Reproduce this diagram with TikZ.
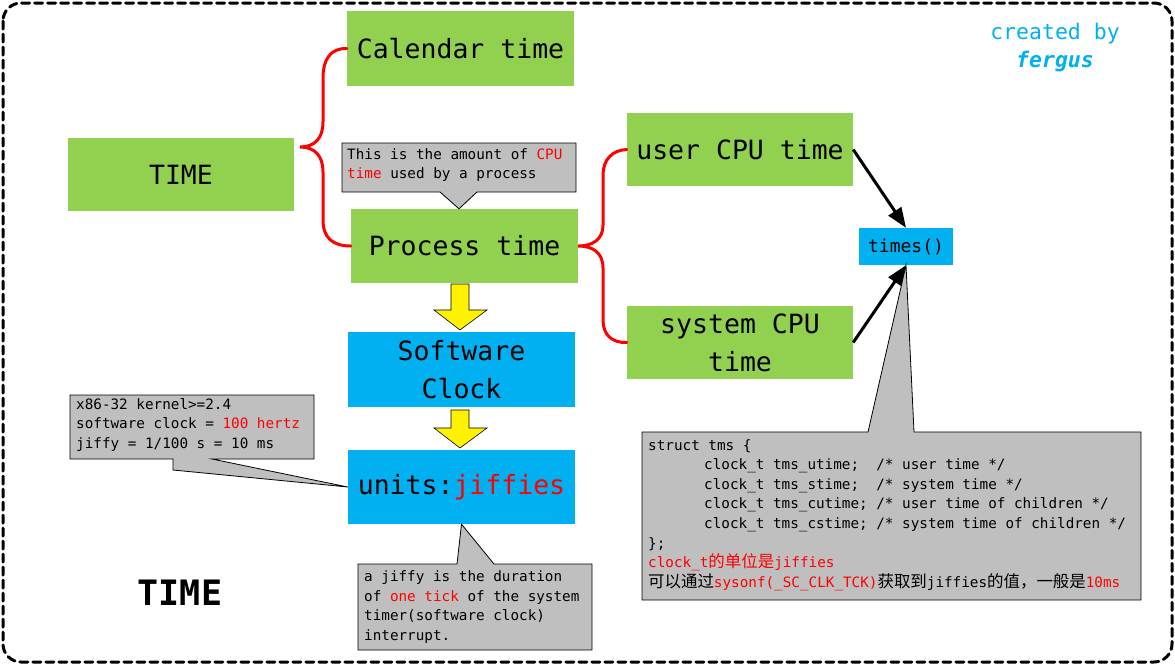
\documentclass[tikz,border=0pt]{standalone}
\usepackage{fontspec}
\setmainfont{DejaVu Sans Mono}
\newfontfamily\cjk[Scale=1.15]{Noto Sans CJK SC}
\usetikzlibrary{arrows.meta}
\definecolor{boxgreen}{HTML}{92D050}
\definecolor{boxblue}{HTML}{00B0F0}
\definecolor{calgray}{HTML}{BFBFBF}
\definecolor{cyantext}{HTML}{00B0F0}
\begin{document}
\begin{tikzpicture}[x=1pt,y=-1pt,
  gbox/.style={fill=boxgreen, minimum width=227, minimum height=74, inner sep=0, font=\fontsize{26.5}{38}\selectfont, align=center},
  bbox/.style={fill=boxblue, minimum width=227, minimum height=75, inner sep=0, font=\fontsize{26.5}{38}\selectfont, align=center},
  callout/.style={fill=calgray, draw=black, line width=0.8},
  ctext/.style={anchor=west, inner sep=0, align=left, font=\fontsize{14.3}{19.6}\selectfont},
  brace/.style={draw=red, line width=3, line cap=round},
  blk/.style={draw=black, line width=3, -{Triangle[length=20pt,width=15pt]}},
  yarrow/.style={fill=yellow, draw=black, line width=0.6}]
\useasboundingbox (0,0) rectangle (1175,665);
\draw[line width=3, dash pattern=on 8pt off 5pt, line cap=round, rounded corners=18] (3,3) rectangle (1172,662);

% boxes
\node[gbox, minimum width=226, minimum height=73] (time) at (181,174.5) {TIME};
\node[gbox, minimum height=75] (cal) at (460.5,48.5) {Calendar time};
\node[gbox] (proc) at (464.5,246) {Process time};
\node[gbox, minimum width=226, minimum height=73] (user) at (740,149.5) {user CPU time};
\node[gbox, minimum width=226, minimum height=73] (sys) at (740,342.5) {system CPU\\time};
\node[bbox] (soft) at (461.5,369.5) {Software\\Clock};
\node[bbox, minimum height=74] (units) at (461.5,487) {units:\textcolor{red}{jiffies}};
\node[fill=boxblue, minimum width=94, minimum height=37, inner sep=0, font=\fontsize{18}{20}\selectfont] (times) at (906,246.5) {times()};

% braces
\draw[brace] (cal.west) .. controls (330,48) and (323,60) .. (323,78) -- (323,122)
  .. controls (323,138) and (315,147) .. (300,147)
  .. controls (315,147) and (323,156) .. (323,172) -- (323,220)
  .. controls (323,238) and (333,246) .. (proc.west);
\draw[brace] (user.west) .. controls (612,150) and (603,160) .. (603,175) -- (603,225)
  .. controls (603,240) and (592,246) .. (proc.east)
  .. controls (592,246) and (603,252) .. (603,268) -- (603,320)
  .. controls (603,335) and (612,343) .. (sys.west);

% black arrows
\draw[blk] (user.east) -- (times.north);
\draw[blk] (sys.east) -- (times.south);

% yellow arrows
\draw[yarrow] (451,284) -- (469,284) -- (469,310) -- (487,310) -- (460,330) -- (434,310) -- (451,310) -- cycle;
\draw[yarrow] (451,410) -- (469,410) -- (469,428) -- (487,428) -- (460,448) -- (434,428) -- (451,428) -- cycle;

% callouts
\draw[callout] (342,143) -- (576,143) -- (576,192) -- (477,192) -- (proc.north -| 459,0) -- (440,192) -- (342,192) -- cycle;
\node[ctext] (pctext) at (347,165) {This is the amount of \textcolor{red}{CPU}\\\textcolor{red}{time} used by a process};

\draw[callout] (70,395) -- (314,395) -- (314,459) -- (212,459) -- (units.west) -- (173,470) -- (173,459) -- (70,459) -- cycle;
\node[ctext] (xtext) at (76,425) {x86-32 kernel>=2.4\\software clock = \textcolor{red}{100 hertz}\\jiffy = 1/100 s = 10 ms};

\draw[callout] (358,564) -- (457,564) -- (units.south) -- (494,564) -- (592,564) -- (592,650) -- (358,650) -- cycle;
\node[ctext] (jtext) at (364,607) {a jiffy is the duration\\of \textcolor{red}{one tick} of the system\\timer(software clock)\\interrupt.};

\draw[callout] (642,432) -- (868,432) -- (times.south) -- (914,432) -- (1141,432) -- (1141,600) -- (642,600) -- cycle;
\node[ctext] (ttext) at (648,515) {struct tms \{\\
\hspace*{56pt}clock\_t tms\_utime;~~/* user time */\\
\hspace*{56pt}clock\_t tms\_stime;~~/* system time */\\
\hspace*{56pt}clock\_t tms\_cutime; /* user time of children */\\
\hspace*{56pt}clock\_t tms\_cstime; /* system time of children */\\
\};\\
\textcolor{red}{clock\_t{\cjk 的单位是}jiffies}\\
{\cjk 可以通过}\textcolor{red}{sysonf(\_SC\_CLK\_TCK)}{\cjk 获取到}jiffies{\cjk 的值，一般是}\textcolor{red}{10ms}};

% labels
\node[text=cyantext, font=\fontsize{21.5}{26}\selectfont] (createdby) at (1055,34) {created by};
\node[text=cyantext, font=\fontsize{21.5}{26}\selectfont\bfseries\itshape] (fergus) at (1055,62) {fergus};
\node[font=\fontsize{35}{40}\selectfont\bfseries] (bigtime) at (180,593) {TIME};
\end{tikzpicture}
\end{document}
